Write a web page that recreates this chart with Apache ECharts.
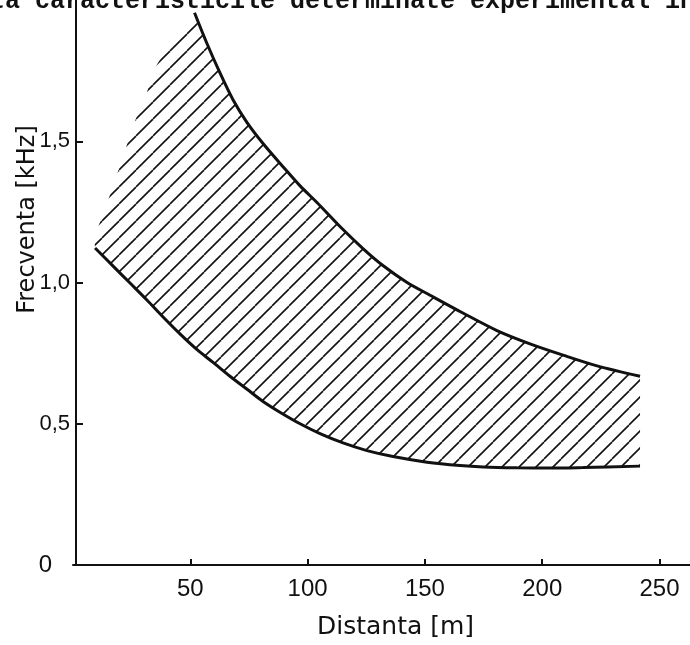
<!DOCTYPE html>
<html><head><meta charset="utf-8">
<script src="https://cdn.jsdelivr.net/npm/echarts@6/dist/echarts.min.js"></script>
<style>html,body{margin:0;padding:0;background:#fff;}#c{width:690px;height:645px;}</style>
</head><body><div id="c"></div>
<script>
const titleText = 'ța caracteristicile determinate experimental în';
const xName = 'Distanta [m]';
const yName = 'Frecventa [kHz]';
const xTickValues = [50, 100, 150, 200, 250];
const yTickValues = [0, 0.5, 1, 1.5];
const yTickLabels = ['0', '0,5', '1,0', '1,5'];

// upper limit curve (distance m, frequency kHz)
const upperDist = [51.8, 57.1, 62.7, 68.2, 74.2, 81.0, 89.5, 96.8, 104.0, 113.8, 123.6, 132.1, 142.4, 152.2, 166.2, 180.7, 194.8, 208.9, 223.4, 241.7];
const upperFreq = [1.955, 1.846, 1.741, 1.647, 1.566, 1.492, 1.410, 1.342, 1.283, 1.198, 1.120, 1.060, 1.000, 0.955, 0.892, 0.830, 0.783, 0.743, 0.705, 0.668];

// lower limit curve
const lowerDist = [9.4, 17.1, 24.3, 31.5, 38.4, 45.6, 52.9, 59.7, 66.9, 74.2, 81.0, 88.2, 96.8, 105.3, 115.1, 125.3, 136.4, 150.9, 165.0, 174.8, 189.3, 203.3, 217.4, 241.7];
const lowerFreq = [1.122, 1.058, 0.998, 0.938, 0.878, 0.818, 0.762, 0.717, 0.668, 0.622, 0.579, 0.541, 0.500, 0.465, 0.432, 0.405, 0.384, 0.364, 0.352, 0.347, 0.344, 0.343, 0.345, 0.350];

// open left edge of the hatched zone
const hatchEdgeDist = [9.0, 12.8, 15.8, 21.3, 24.3, 27.3, 31.5, 33.7, 40.5];
const hatchEdgeFreq = [1.16, 1.241, 1.311, 1.444, 1.521, 1.591, 1.671, 1.741, 1.839];

function makeHatch() {
  const s = 17;
  const c = document.createElement('canvas');
  c.width = s; c.height = s;
  const g = c.getContext('2d');
  g.strokeStyle = '#111';
  g.lineWidth = 1.6;
  for (const k of [-1, 0, 1]) {
    g.beginPath();
    g.moveTo(k * s, s);
    g.lineTo(k * s + s, 0);
    g.stroke();
  }
  return c;
}
const hatch = makeHatch();

const chart = echarts.init(document.getElementById('c'), null, {renderer: 'canvas'});
const ink = '#111';
const labelFont = 'Liberation Sans';
const option = {
  animation: false,
  backgroundColor: '#fff',
  grid: {left: 73, right: 0, top: -4, bottom: 77},
  xAxis: {
    type: 'value', min: 0, max: 263, interval: 50,
    name: xName, nameLocation: 'middle', nameGap: 50, nameMoveOverlap: false,
    nameTextStyle: {fontFamily: 'DejaVu Sans', fontSize: 25, color: ink, padding: [0, 0, 0, 28]},
    axisLine: {show: true, lineStyle: {color: ink, width: 2}},
    axisTick: {show: true, inside: true, length: 6, customValues: xTickValues, lineStyle: {color: ink, width: 2}},
    axisLabel: {
      customValues: xTickValues, margin: 12,
      fontFamily: labelFont, fontSize: 24, color: ink,
      formatter: v => String(v)
    },
    splitLine: {show: false}
  },
  yAxis: {
    type: 'value', min: 0, max: 2, interval: 0.5, offset: -3,
    name: yName, nameLocation: 'middle', nameGap: 36, nameRotate: 90, nameMoveOverlap: false,
    nameTextStyle: {fontFamily: 'DejaVu Sans', fontSize: 24, color: ink, padding: [0, 0, 0, 126]},
    axisLine: {show: true, lineStyle: {color: ink, width: 2}},
    axisTick: {show: true, inside: true, length: 7, customValues: yTickValues, lineStyle: {color: ink, width: 2}},
    axisLabel: {
      customValues: yTickValues, margin: 6,
      fontFamily: labelFont, fontSize: 22, color: ink,
      formatter: v => {
        const i = yTickValues.indexOf(v);
        if (i < 0) return '';
        return i === 0 ? '{z|' + yTickLabels[0] + '}' : yTickLabels[i];
      },
      rich: {z: {fontFamily: labelFont, fontSize: 24, color: ink, padding: [0, 18, 0, 0]}}
    },
    splitLine: {show: false}
  },
  series: [
    {
      type: 'custom', silent: true, z: 2,
      data: [[100, 1]],
      renderItem: (params, api) => {
        const pts = [];
        hatchEdgeDist.forEach((d, i) => pts.push(api.coord([d, hatchEdgeFreq[i]])));
        upperDist.forEach((d, i) => pts.push(api.coord([d, upperFreq[i]])));
        for (let i = lowerDist.length - 1; i >= 0; i--) pts.push(api.coord([lowerDist[i], lowerFreq[i]]));
        return {type: 'polygon', shape: {points: pts}, style: {fill: {image: hatch, repeat: 'repeat'}, stroke: null}};
      }
    },
    {
      type: 'line', z: 3, symbol: 'none', smooth: 0.3,
      data: lowerDist.map((d, i) => [d, lowerFreq[i]]),
      lineStyle: {color: ink, width: 3}
    },
    {
      type: 'line', z: 3, symbol: 'none', smooth: 0.3,
      data: upperDist.map((d, i) => [d, upperFreq[i]]),
      lineStyle: {color: ink, width: 3}
    }
  ],
  graphic: [{
    type: 'text', x: -10, y: 2, z: 100,
    style: {text: titleText, font: 'bold 25px "Liberation Mono"', fill: ink, verticalAlign: 'middle', align: 'left'}
  }]
};
chart.setOption(option);
</script>
</body></html>
